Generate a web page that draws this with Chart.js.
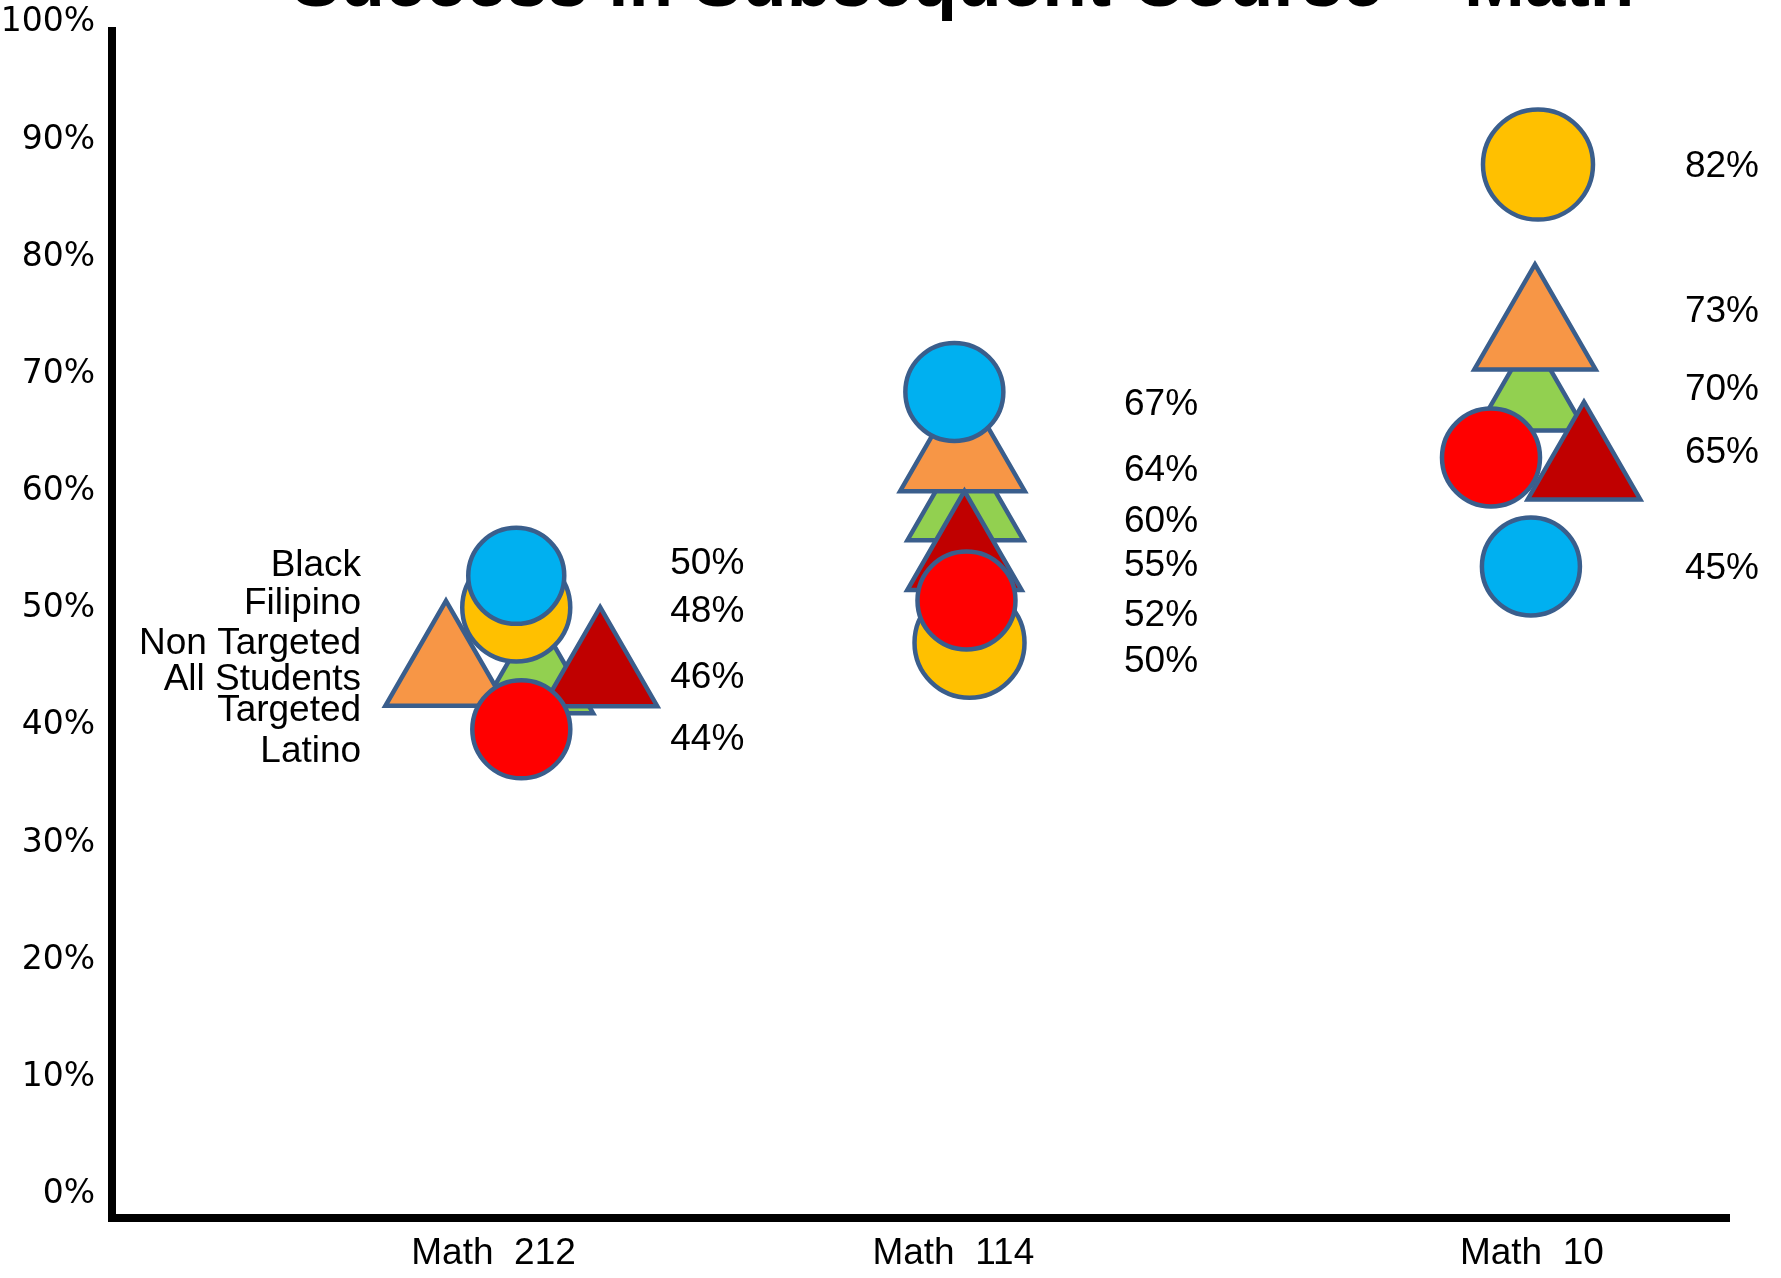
<!DOCTYPE html>
<html>
<head>
<meta charset="utf-8">
<title>Success in Subsequent Course – Math</title>
<script src="https://cdn.jsdelivr.net/npm/chart.js@4.4.1/dist/chart.umd.min.js"></script>
<style>
    html, body { margin: 0; padding: 0; background: #ffffff; }
    #math_chart { display: block; }
</style>
</head>
<body>
<canvas id="math_chart" width="1781" height="1278"></canvas>
<script>
// Courses along the bottom
const courses = ['Math  212', 'Math  114', 'Math  10'];
const groups = ['Black', 'Filipino', 'Non Targeted', 'All Students', 'Targeted', 'Latino'];

// Height of each marker on the % axis, one value per course
const black       = [52.8, 68.5, 53.6];
const filipino    = [50.1, 47.1, 87.9];
const nonTargeted = [44.7, 63.1, 73.4];
const allStudents = [43.9, 58.7, 67.9];
const targeted    = [44.5, 54.4, 62.1];
const latino      = [39.7, 50.7, 62.9];

// Percentages printed to the right of each course, and the level they sit at
const pct212   = ['50%', '48%', '46%', '44%'];
const pct212At = [53.8, 49.7, 44.1, 38.8];
const pct114   = ['67%', '64%', '60%', '55%', '52%', '50%'];
const pct114At = [67.4, 61.8, 57.4, 53.7, 49.4, 45.5];
const pct10    = ['82%', '73%', '70%', '65%', '45%'];
const pct10At  = [87.7, 75.3, 68.7, 63.3, 53.4];

// Group names written left of Math 212, and their levels
const groupNameAt = [53.7, 50.4, 47.0, 43.9, 41.3, 37.8];

const yTicks = [0, 10, 20, 30, 40, 50, 60, 70, 80, 90, 100];

// ---- layout (x slots, nudges, sizes, colours) ----
const catX  = [1, 1.881, 3.02];
const tickX = [0.955, 1.865, 3.01];
const pctColX = [1.378, 2.276, 3.386];
const nameColX = 0.693;

const outline = '#3A5E8C';
const FONT = '"Liberation Sans", Arial, sans-serif';

// draw order: first one ends up on top
const series = [
    { name: 'Black',        values: black,       color: '#00B0F0', shape: 'circle',   radius: [48, 49, 49], nudge: [0, -0.014, -0.012] },
    { name: 'Latino',       values: latino,      color: '#FF0000', shape: 'circle',   radius: [49, 49, 49], nudge: [0.01, 0.01, -0.091] },
    { name: 'Targeted',     values: targeted,    color: '#C00000', shape: 'triangle', radius: [66, 66, 65], nudge: [0.166, 0.006, 0.093] },
    { name: 'Non Targeted', values: nonTargeted, color: '#F79646', shape: 'triangle', radius: [70, 72, 70], nudge: [-0.139, 0.002, -0.004] },
    { name: 'Filipino',     values: filipino,    color: '#FFC000', shape: 'circle',   radius: [54, 55, 55], nudge: [0, 0.016, 0.002] },
    { name: 'All Students', values: allStudents, color: '#92D050', shape: 'triangle', radius: [66, 67, 63], nudge: [0.039, 0.008, -0.012] }
];

const titlePlugin = {
    id: 'slideTitle',
    afterDraw(chart) {
        const ctx = chart.ctx;
        ctx.save();
        ctx.font = 'bold 73px ' + FONT;
        ctx.fillStyle = '#000';
        ctx.textAlign = 'center';
        ctx.textBaseline = 'alphabetic';
        ctx.fillText('Success in Subsequent Course – Math', 963, 6);
        ctx.restore();
    }
};

const textPlugin = {
    id: 'slideText',
    afterDatasetsDraw(chart) {
        const ctx = chart.ctx;
        const x = chart.scales.x;
        const y = chart.scales.y;
        ctx.save();
        ctx.font = '37px ' + FONT;
        ctx.fillStyle = '#000';
        ctx.textBaseline = 'middle';

        ctx.textAlign = 'center';
        [[pct212, pct212At], [pct114, pct114At], [pct10, pct10At]].forEach(([texts, levels], c) => {
            texts.forEach((t, i) => {
                ctx.fillText(t, x.getPixelForValue(pctColX[c]), y.getPixelForValue(levels[i]));
            });
        });

        ctx.textAlign = 'right';
        groups.forEach((g, i) => {
            ctx.fillText(g, x.getPixelForValue(nameColX), y.getPixelForValue(groupNameAt[i]));
        });
        ctx.restore();
    }
};

function buildDatasets() {
    return series.map(s => ({
        label: s.name,
        data: s.values.map((v, i) => ({ x: catX[i] + s.nudge[i], y: v })),
        pointStyle: s.shape,
        pointRadius: s.radius,
        pointHoverRadius: s.radius,
        backgroundColor: s.color,
        borderColor: outline,
        borderWidth: 4.5,
        pointBorderWidth: 4.5,
        showLine: false
    }));
}

function initializeChart() {
    const ctx = document.getElementById('math_chart').getContext('2d');

    new Chart(ctx, {
        type: 'scatter',
        data: { datasets: buildDatasets() },
        options: {
            responsive: false,
            animation: false,
            events: [],
            layout: { autoPadding: false, padding: { top: 31, right: 52, bottom: 0, left: 0 } },
            plugins: {
                legend: { display: false },
                tooltip: { enabled: false },
                title: { display: false }
            },
            scales: {
                x: {
                    type: 'linear',
                    min: 0.2,
                    max: 3.4,
                    afterBuildTicks: scale => { scale.ticks = tickX.map(v => ({ value: v })); },
                    afterFit: scale => {
                        scale.height = 60;
                        scale.paddingLeft = 0;
                        scale.paddingRight = 0;
                    },
                    grid: { display: false, drawTicks: false },
                    border: { display: true, width: 8, color: '#000' },
                    ticks: {
                        autoSkip: false,
                        maxRotation: 0,
                        padding: 14,
                        color: '#000',
                        font: { family: FONT, size: 37 },
                        callback: (v, i) => courses[i]
                    }
                },
                y: {
                    type: 'linear',
                    min: -2,
                    max: 99.3,
                    afterBuildTicks: scale => { scale.ticks = yTicks.map(v => ({ value: v })); },
                    afterFit: scale => {
                        scale.width = 112;
                        scale.paddingTop = 0;
                        scale.paddingBottom = 0;
                    },
                    grid: { display: false, drawTicks: false },
                    border: { display: true, width: 8, color: '#000' },
                    ticks: {
                        autoSkip: false,
                        padding: 17,
                        color: '#000',
                        font: { family: '"DejaVu Sans", Verdana, sans-serif', size: 33 },
                        callback: v => v + '%'
                    }
                }
            }
        },
        plugins: [titlePlugin, textPlugin]
    });
    console.log('Chart drawn');
}

document.addEventListener('DOMContentLoaded', initializeChart);
</script>
</body>
</html>
